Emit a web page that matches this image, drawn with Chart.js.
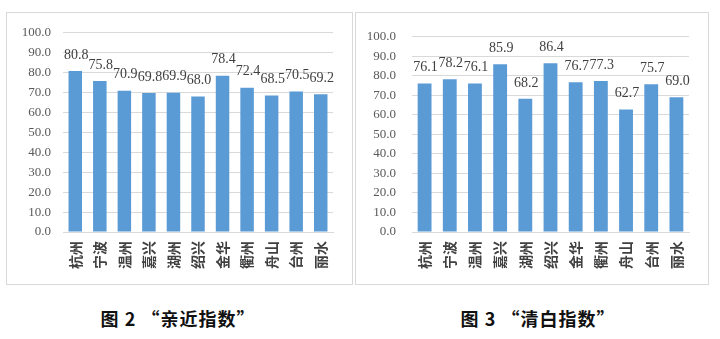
<!DOCTYPE html>
<html>
<head>
<meta charset="utf-8">
<script src="https://cdn.jsdelivr.net/npm/chart.js@4.4.1/dist/chart.umd.min.js"></script>
<style>
  body { margin: 0; background: #fff; width: 720px; height: 339px; position: relative; overflow: hidden; }
  .box { position: absolute; top: 12px; height: 271px; border: 1px solid #d9d9d9; background: #fff; }
  .box canvas { position: absolute; left: 0; top: 0; }
  .cap { position: absolute; top: 305px; font-family: "Noto Sans CJK SC", sans-serif; font-weight: bold; font-size: 18px; letter-spacing: 1px; color: #111; text-align: center; width: 300px; }
</style>
</head>
<body>
<div class="box" id="box1" style="left:6px;width:345px;"><canvas id="c1"></canvas></div>
<div class="box" id="box2" style="left:355px;width:352px;"><canvas id="c2"></canvas></div>
<div class="cap" style="left:28px;">图 2 “亲近指数”</div>
<div class="cap" style="left:388px;">图 3 “清白指数”</div>
<script>
const cities = ['杭州', '宁波', '温州', '嘉兴', '湖州', '绍兴', '金华', '衢州', '舟山', '台州', '丽水'];
const qinjin = [80.8, 75.8, 70.9, 69.8, 69.9, 68.0, 78.4, 72.4, 68.5, 70.5, 69.2];
const qingbai = [76.1, 78.2, 76.1, 85.9, 68.2, 86.4, 76.7, 77.3, 62.7, 75.7, 69.0];
const yMax = 100;
const yStep = 10;

// value labels above each bar
const barLabels = {
    id: 'barLabels',
    afterDatasetsDraw(chart) {
        const ctx = chart.ctx;
        const meta = chart.getDatasetMeta(0);
        ctx.save();
        ctx.font = '14px "Liberation Serif", serif';
        ctx.fillStyle = '#404040';
        ctx.textAlign = 'center';
        ctx.textBaseline = 'middle';
        meta.data.forEach((bar, i) => {
            const v = chart.data.datasets[0].data[i];
            ctx.fillText(v.toFixed(1), bar.x + 1, bar.y - 16);
        });
        ctx.restore();
    }
};

function makeChart(id, values, w, h, yWidth, tickPad) {
    const canvas = document.getElementById(id);
    canvas.width = w;
    canvas.height = h;
    canvas.style.width = w + 'px';
    canvas.style.height = h + 'px';
    return new Chart(canvas, {
        type: 'bar',
        data: {
            labels: cities,
            datasets: [{ data: values, backgroundColor: '#5b9bd5', categoryPercentage: 1, barPercentage: 0.55 }]
        },
        options: {
            responsive: false,
            animation: false,
            devicePixelRatio: 1,
            layout: { padding: { top: 19, right: 19, left: 0, bottom: 0 } },
            plugins: { legend: { display: false }, tooltip: { enabled: false } },
            scales: {
                y: {
                    min: 0, max: yMax,
                    ticks: { stepSize: yStep, padding: tickPad, color: '#595959',
                        font: { family: '"Liberation Serif", serif', size: 13 },
                        callback: v => v.toFixed(1) },
                    grid: { color: '#d9d9d9', drawTicks: false },
                    border: { display: false },
                    afterFit: s => { s.width = yWidth; }
                },
                x: {
                    ticks: { minRotation: 90, maxRotation: 90, padding: 9, color: '#404040',
                        font: { family: '"Noto Sans CJK SC", sans-serif', size: 14, weight: 'bold' } },
                    grid: { display: false, drawTicks: false },
                    border: { color: '#d9d9d9' },
                    afterFit: s => { s.height = 52; }
                }
            }
        },
        plugins: [barLabels]
    });
}

makeChart('c1', qinjin, 345, 271, 56, 12);
makeChart('c2', qingbai, 352, 271, 56, 16);
</script>
</body>
</html>
